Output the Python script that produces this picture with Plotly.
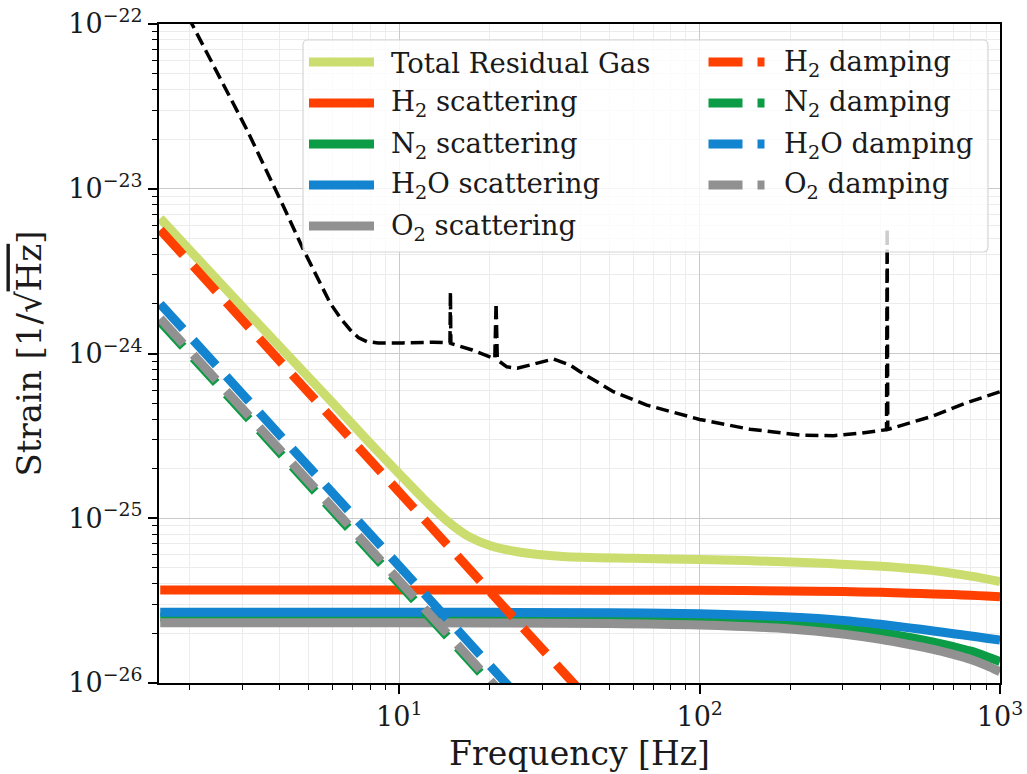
import plotly.graph_objects as go

# ---------------- data ----------------
# residual-gas noise components (strain amplitude, 1/sqrt(Hz))
f_total = [1.6, 2.5, 4, 6, 8, 10, 12, 14.5, 17, 20, 25, 35, 60, 100, 200, 400, 600, 800, 1000]
h_total = [6.61e-24, 2.75e-24, 1.10e-24, 5.01e-25, 2.85e-25, 1.86e-25, 1.32e-25, 9.55e-26,
           7.76e-26, 6.84e-26, 6.24e-26, 5.86e-26, 5.71e-26, 5.62e-26, 5.43e-26, 5.11e-26,
           4.81e-26, 4.45e-26, 4.12e-26]

f_scat = [1.6, 10, 50, 100, 200, 300, 400, 500, 600, 700, 800, 900, 1000]
h_scat_H2 = [3.67e-26, 3.67e-26, 3.66e-26, 3.65e-26, 3.62e-26, 3.59e-26, 3.55e-26,
             3.51e-26, 3.47e-26, 3.44e-26, 3.41e-26, 3.37e-26, 3.34e-26]
h_scat_N2 = [2.51e-26, 2.51e-26, 2.49e-26, 2.44e-26, 2.32e-26, 2.18e-26, 2.03e-26,
             1.89e-26, 1.77e-26, 1.66e-26, 1.56e-26, 1.45e-26, 1.35e-26]
h_scat_H2O = [2.69e-26, 2.69e-26, 2.67e-26, 2.63e-26, 2.52e-26, 2.40e-26, 2.27e-26,
              2.16e-26, 2.07e-26, 1.99e-26, 1.93e-26, 1.87e-26, 1.82e-26]
h_scat_O2 = [2.32e-26, 2.32e-26, 2.30e-26, 2.25e-26, 2.13e-26, 1.98e-26, 1.84e-26,
             1.71e-26, 1.60e-26, 1.49e-26, 1.39e-26, 1.28e-26, 1.17e-26]

f_damp = [1.6, 10, 40]
h_damp_H2 = [5.63e-24, 1.44e-25, 9.0e-27]
h_damp_N2 = [1.56e-24, 4.0e-26, 2.5e-27]
h_damp_H2O = [2.00e-24, 5.12e-26, 3.2e-27]
h_damp_O2 = [1.63e-24, 4.16e-26, 2.6e-27]

# detector sensitivity curve
f_sens = [1.98, 2.04, 3.11, 4.12, 4.80, 5.89, 6.4, 6.87, 7.3, 7.81, 8.5, 10.3, 13.0,
          14.75, 14.8, 14.85, 17.5, 20.8, 21.0, 21.2, 22.8, 24.7, 28.7, 32.6, 37.1, 40.0,
          51.6, 66.7, 100, 147, 216, 279, 342, 419, 421, 423, 600, 774, 1000]
h_sens = [1.11e-22, 1.0e-22, 2.28e-23, 7.78e-24, 4.25e-24, 2.02e-24, 1.62e-24, 1.39e-24,
          1.25e-24, 1.18e-24, 1.16e-24, 1.16e-24, 1.17e-24, 1.16e-24, 2.37e-24, 1.15e-24,
          1.05e-24, 9.3e-25, 2.02e-24, 9.15e-25, 8.3e-25, 8.13e-25, 8.7e-25, 9.27e-25,
          8.5e-25, 7.76e-25, 5.86e-25, 4.86e-25, 3.98e-25, 3.47e-25, 3.20e-25, 3.17e-25,
          3.28e-25, 3.45e-25, 5.75e-24, 3.46e-25, 4.18e-25, 5.02e-25, 5.86e-25]

# axis ticks
x_tickvals = [10, 100, 1000]
x_ticktext = ["10<sup>1</sup>", "10<sup>2</sup>", "10<sup>3</sup>"]
y_tickvals = [1e-26, 1e-25, 1e-24, 1e-23, 1e-22]
y_ticktext = ["10<sup>−26</sup>", "10<sup>−25</sup>", "10<sup>−24</sup>",
              "10<sup>−23</sup>", "10<sup>−22</sup>"]

# ---------------- styling ----------------
FONT = "DejaVu Serif"
C_TOTAL = "#cbdd6e"
C_H2 = "#ff4000"
C_N2 = "#0c9c45"
C_H2O = "#1384cf"
C_O2 = "#919191"
LW = 9
DASH = "34px,15px"

W, H = 1027, 774
L, R, T, B = 159, 27, 24, 91
PW, PH = W - L - R, H - T - B


def px(x):
    return (x - L) / PW


def py(y):
    return (H - B - y) / PH


fig = go.Figure()

solid = [("Total", f_total, h_total, C_TOTAL),
         ("H2 scat", f_scat, h_scat_H2, C_H2),
         ("N2 scat", f_scat, h_scat_N2, C_N2),
         ("H2O scat", f_scat, h_scat_H2O, C_H2O),
         ("O2 scat", f_scat, h_scat_O2, C_O2)]
for name, fx, hy, col in solid:
    fig.add_trace(go.Scatter(x=fx, y=hy, mode="lines", name=name, showlegend=False,
                             line=dict(color=col, width=LW, shape="spline", smoothing=0.8)))

dashed = [("H2 damp", h_damp_H2, C_H2), ("N2 damp", h_damp_N2, C_N2),
          ("H2O damp", h_damp_H2O, C_H2O), ("O2 damp", h_damp_O2, C_O2)]
for name, hy, col in dashed:
    fig.add_trace(go.Scatter(x=f_damp, y=hy, mode="lines", name=name, showlegend=False,
                             line=dict(color=col, width=LW, dash=DASH)))

fig.add_trace(go.Scatter(x=f_sens, y=h_sens, mode="lines", name="sensitivity", showlegend=False,
                         line=dict(color="black", width=3.5, dash="13px,6px")))

# ---------------- legend (drawn box, handles and labels) ----------------
shapes = []
annotations = []
bx0, bx1, by0, by1, rr = 303, 988, 40, 252, 5
rx, ry = rr / PW, rr / PH
X0, X1, Y0, Y1 = px(bx0), px(bx1), py(by1), py(by0)
path = (f"M{X0+rx},{Y0} L{X1-rx},{Y0} Q{X1},{Y0} {X1},{Y0+ry} L{X1},{Y1-ry} "
        f"Q{X1},{Y1} {X1-rx},{Y1} L{X0+rx},{Y1} Q{X0},{Y1} {X0},{Y1-ry} "
        f"L{X0},{Y0+ry} Q{X0},{Y0} {X0+rx},{Y0} Z")
shapes.append(dict(type="path", path=path, xref="paper", yref="paper", layer="above",
                   fillcolor="rgba(255,255,255,0.8)", line=dict(color="#d6d6d6", width=1.2)))

rows = [62, 103, 144, 185, 226]
col1 = [("Total Residual Gas", C_TOTAL),
        ("H<sub>2</sub> scattering", C_H2),
        ("N<sub>2</sub> scattering", C_N2),
        ("H<sub>2</sub>O scattering", C_H2O),
        ("O<sub>2</sub> scattering", C_O2)]
col2 = [("H<sub>2</sub> damping", C_H2),
        ("N<sub>2</sub> damping", C_N2),
        ("H<sub>2</sub>O damping", C_H2O),
        ("O<sub>2</sub> damping", C_O2)]
LEG_FONT = dict(family=FONT, size=27.5, color="#1a1a1a")

for (label, col), yy in zip(col1, rows):
    shapes.append(dict(type="line", xref="paper", yref="paper", layer="above",
                       x0=px(309), x1=px(374), y0=py(yy), y1=py(yy),
                       line=dict(color=col, width=LW)))
    annotations.append(dict(text=label, xref="paper", yref="paper", x=px(389), y=py(yy + 1),
                            xanchor="left", yanchor="middle", showarrow=False, font=LEG_FONT))
for (label, col), yy in zip(col2, rows):
    shapes.append(dict(type="line", xref="paper", yref="paper", layer="above",
                       x0=px(708.5), x1=px(764.5), y0=py(yy), y1=py(yy),
                       line=dict(color=col, width=LW, dash=DASH)))
    annotations.append(dict(text=label, xref="paper", yref="paper", x=px(782), y=py(yy + 1),
                            xanchor="left", yanchor="middle", showarrow=False, font=LEG_FONT))

minor_common = dict(ticks="outside", ticklen=5, tickwidth=1, tickcolor="black",
                    showgrid=True, gridcolor="#ececec", gridwidth=1)
axis_common = dict(
    type="log", tickmode="array", automargin=False,
    tickfont=dict(family=FONT, size=27, color="#1a1a1a"),
    ticks="outside", ticklen=9, tickwidth=1.5, tickcolor="black",
    showline=True, linecolor="black", linewidth=2, mirror=True,
    showgrid=True, gridcolor="#cacaca", gridwidth=1.2, zeroline=False,
)

x_minor = [m * 10 ** e for e in range(0, 3) for m in range(2, 10) if m * 10 ** e >= 1.6]
y_minor = [m * 10.0 ** e for e in range(-26, -22) for m in range(2, 10)]

fig.update_layout(
    width=W, height=H,
    margin=dict(l=L, r=R, t=T, b=B),
    paper_bgcolor="white", plot_bgcolor="white",
    font=dict(family=FONT, color="#1a1a1a"),
    xaxis=dict(axis_common, range=[0.2, 3], tickvals=x_tickvals, ticktext=x_ticktext,
               minor=dict(minor_common, tickmode="array", tickvals=x_minor),
               title=dict(text="Frequency [Hz]", font=dict(family=FONT, size=33), standoff=10)),
    yaxis=dict(axis_common, range=[-26, -22], tickvals=y_tickvals, ticktext=y_ticktext,
               minor=dict(minor_common, tickmode="array", tickvals=y_minor),
               title=dict(text="Strain [1/√<span style='text-decoration:overline'>Hz</span>]",
                          font=dict(family=FONT, size=34), standoff=16)),
    shapes=shapes, annotations=annotations,
    showlegend=False,
)

fig.write_html("out.html")
